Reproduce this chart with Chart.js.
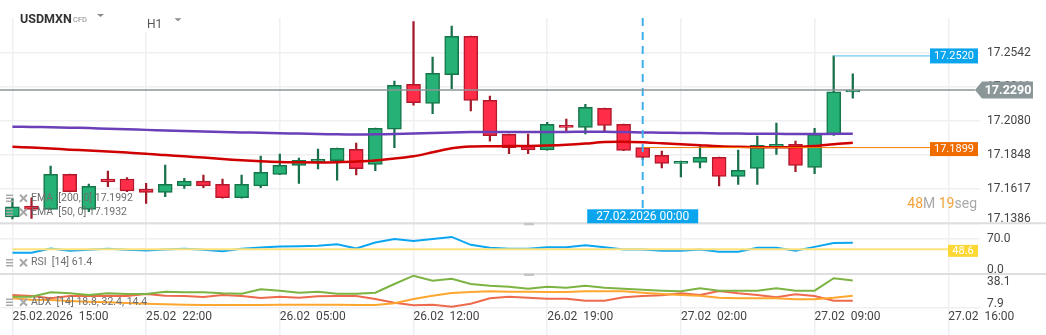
<!DOCTYPE html>
<html lang="es">
<head>
<meta charset="utf-8">
<title>USDMXN H1</title>
<script src="https://cdn.jsdelivr.net/npm/chart.js@4.4.1/dist/chart.umd.min.js"></script>
<style>
  html, body { margin: 0; padding: 0; background: #fff; overflow: hidden; }
  canvas { display: block; }
</style>
</head>
<body>
<canvas id="chart" width="1046" height="335"></canvas>
<script>
// Hourly USDMXN candles, 25.02 15:00 .. 27.02 11:00
const opens  = [17.1430, 17.1503, 17.1480, 17.1718, 17.1480, 17.1686, 17.1686, 17.1618, 17.1596, 17.1640,
                17.1672, 17.1650, 17.1559, 17.1640, 17.1718, 17.1779, 17.1801, 17.1810, 17.1887, 17.1785,
                17.2023, 17.2328, 17.2199, 17.2393, 17.2653, 17.2219, 17.1989, 17.1909, 17.1884, 17.2050,
                17.2035, 17.2165, 17.2057, 17.1899, 17.1846, 17.1792, 17.1799, 17.1833, 17.1704, 17.1758,
                17.1907, 17.1921, 17.1765, 17.1984, 17.2276];
const highs  = [17.1555, 17.1559, 17.1774, 17.1720, 17.1652, 17.1740, 17.1695, 17.1657, 17.1781, 17.1690,
                17.1713, 17.1686, 17.1713, 17.1842, 17.1855, 17.1828, 17.1889, 17.1896, 17.1930, 17.2031,
                17.2350, 17.2752, 17.2513, 17.2723, 17.2655, 17.2248, 17.1990, 17.1991, 17.2070, 17.2092,
                17.2192, 17.2167, 17.2059, 17.1901, 17.1876, 17.1808, 17.1916, 17.1835, 17.1882, 17.1977,
                17.2065, 17.1943, 17.2029, 17.2520, 17.2398];
const lows   = [17.1415, 17.1419, 17.1478, 17.1598, 17.1464, 17.1634, 17.1600, 17.1521, 17.1566, 17.1623,
                17.1627, 17.1557, 17.1557, 17.1627, 17.1716, 17.1657, 17.1754, 17.1679, 17.1713, 17.1742,
                17.1898, 17.2187, 17.2128, 17.2298, 17.2147, 17.1943, 17.1857, 17.1857, 17.1882, 17.2002,
                17.1991, 17.2011, 17.1878, 17.1817, 17.1762, 17.1701, 17.1762, 17.1640, 17.1650, 17.1650,
                17.1853, 17.1735, 17.1722, 17.1982, 17.2233];
const closes = [17.1498, 17.1480, 17.1718, 17.1600, 17.1636, 17.1667, 17.1606, 17.1596, 17.1650, 17.1672,
                17.1640, 17.1559, 17.1650, 17.1731, 17.1779, 17.1813, 17.1819, 17.1894, 17.1756, 17.2029,
                17.2321, 17.2203, 17.2402, 17.2653, 17.2219, 17.1979, 17.1898, 17.1884, 17.2057, 17.2036,
                17.2172, 17.2050, 17.1880, 17.1833, 17.1792, 17.1806, 17.1833, 17.1704, 17.1745, 17.1914,
                17.1921, 17.1779, 17.1989, 17.2276, 17.2290];

const ema200 = [17.2040, 17.2039, 17.2037, 17.2034, 17.2031, 17.2027, 17.2023, 17.2019, 17.2015, 17.2012,
                17.2008, 17.2005, 17.2002, 17.1999, 17.1996, 17.1994, 17.1991, 17.1989, 17.1988, 17.1989,
                17.1991, 17.1994, 17.1998, 17.2001, 17.2004, 17.2005, 17.2005, 17.2004, 17.2004, 17.2005,
                17.2006, 17.2006, 17.2004, 17.2002, 17.2000, 17.1998, 17.1997, 17.1995, 17.1994, 17.1993,
                17.1992, 17.1991, 17.1991, 17.1992, 17.1992];
const ema50  = [17.1905, 17.1899, 17.1893, 17.1885, 17.1879, 17.1872, 17.1865, 17.1858, 17.1848, 17.1840,
                17.1831, 17.1821, 17.1813, 17.1806, 17.1801, 17.1799, 17.1798, 17.1800, 17.1804, 17.1811,
                17.1825, 17.1840, 17.1867, 17.1894, 17.1906, 17.1908, 17.1909, 17.1910, 17.1913, 17.1918,
                17.1926, 17.1937, 17.1939, 17.1935, 17.1928, 17.1922, 17.1915, 17.1908, 17.1904, 17.1902,
                17.1901, 17.1902, 17.1909, 17.1922, 17.1932];

const rsi14   = [41.8, 41.8, 50.4, 45.7, 47.6, 49.6, 47.6, 46.5, 48.4, 49.6, 47.6, 45.1, 49.6, 52.4, 54.3,
                 54.9, 55.5, 58.8, 50.4, 62.2, 69.2, 65.3, 69.2, 73.1, 57.5, 51.6, 49.6, 49.6, 52.9, 52.9,
                 56.9, 52.9, 48.4, 48.4, 45.7, 45.7, 48.4, 43.7, 43.7, 51.6, 51.6, 45.7, 53.5, 61.0, 61.4];
const rsiLevel = 48.6;

const adx14   = [16.5, 15.3, 15.0, 14.1, 13.5, 13.0, 12.3, 11.7, 11.2, 10.8, 10.6, 10.6, 10.6, 10.6, 10.8,
                 10.8, 10.8, 10.8, 10.6, 10.6, 12.1, 15.9, 18.8, 21.2, 22.1, 22.7, 22.4, 22.4, 22.1, 22.1,
                 22.7, 22.7, 22.7, 21.5, 20.3, 19.4, 18.7, 17.0, 16.5, 16.5, 16.5, 15.6, 15.6, 17.0, 18.8];
const plusDI  = [17.9, 17.9, 21.8, 21.0, 19.4, 21.0, 20.3, 20.3, 22.4, 21.8, 21.8, 21.0, 20.6, 24.5, 23.3,
                 21.5, 22.4, 20.6, 20.6, 21.5, 29.2, 36.6, 32.1, 33.9, 29.2, 27.7, 26.8, 25.0, 26.8, 25.9,
                 27.7, 25.9, 25.0, 24.2, 23.3, 22.7, 25.4, 23.3, 23.3, 23.3, 25.4, 23.3, 23.3, 34.3, 32.4];
const minusDI = [19.4, 18.6, 16.5, 18.6, 18.6, 18.8, 18.6, 20.3, 18.8, 18.6, 17.7, 19.4, 18.6, 16.8, 17.9,
                 17.0, 18.3, 18.6, 18.6, 15.9, 12.6, 10.3, 10.8, 9.1, 11.7, 16.5, 17.9, 17.0, 16.2, 16.2,
                 14.4, 14.4, 17.4, 18.6, 19.2, 21.0, 19.4, 23.0, 21.0, 19.4, 17.4, 20.1, 18.6, 14.4, 14.4];

const priceTicks = [17.1386, 17.1617, 17.1848, 17.2080, 17.2311, 17.2542];
const rsiTicks = [0, 70];
const adxTicks = [7.9, 38.1];
const timeTicks = [0, 7, 14, 21, 28, 35, 42, 49];
const timeLabels = ['25.02.2026  15:00', '25.02  22:00', '26.02  05:00', '26.02  12:00',
                    '26.02  19:00', '27.02  02:00', '27.02  09:00', '27.02  16:00'];

const dayStart = 33;          // first candle of 27.02
const dayStartLabel = '27.02.2026 00:00';
const highCandle = 43;        // candle that printed the high
const countdown = [['48', '#f4a23a'], ['M ', '#a9a9a9'], ['19', '#f4a23a'], ['seg', '#a9a9a9']];

const UP = '#26b277', UP_EDGE = '#16754a', UP_WICK = '#17704a';
const DOWN = '#ff2d47', DOWN_EDGE = '#b3192c', DOWN_WICK = '#a31b2b';
const GRID = '#f0f0f3';

Chart.defaults.font.family = 'Roboto';

const idx = closes.map((_, i) => i);
const rising = idx.map(i => closes[i] >= opens[i]);
const series = arr => arr.map((v, i) => ({ x: i, y: v }));
const fixedTicks = values => scale => { scale.ticks = values.map(v => ({ value: v })); };
const axisWidth = scale => { scale.width = 66; };

function paneAxis(weight, min, max, values) {
  return {
    position: 'right', stack: 'panes', stackWeight: weight,
    min, max, bounds: 'data',
    afterBuildTicks: fixedTicks(values),
    afterFit: axisWidth,
    grid: { color: GRID, lineWidth: 1.5, drawTicks: false },
    border: { display: false },
    ticks: { display: false }
  };
}

function line(ctx, x1, y1, x2, y2) {
  ctx.beginPath(); ctx.moveTo(x1, y1); ctx.lineTo(x2, y2); ctx.stroke();
}

function tag(ctx, left, cy, w, h, fill, text, font) {
  ctx.fillStyle = fill;
  ctx.fillRect(left, cy - h / 2, w, h);
  ctx.fillStyle = '#fff';
  ctx.font = font;
  ctx.textAlign = 'center';
  ctx.textBaseline = 'middle';
  ctx.fillText(text, left + w / 2, cy + 0.5);
}

function legendRow(ctx, cy, text) {
  ctx.strokeStyle = '#a8a8a8';
  ctx.lineWidth = 1.5;
  for (const d of [-3, 0, 3]) line(ctx, 6, cy + d, 13, cy + d);
  ctx.lineWidth = 2;
  line(ctx, 20, cy - 3.5, 27, cy + 3.5);
  line(ctx, 20, cy + 3.5, 27, cy - 3.5);
  ctx.fillStyle = '#6e6e6e';
  ctx.font = '10.5px Roboto';
  ctx.textAlign = 'left';
  ctx.textBaseline = 'middle';
  ctx.fillText(text, 31, cy);
}

const overlay = {
  id: 'overlay',
  afterDraw(chart) {
    const { ctx, chartArea: area, scales: { x, y, rsi, adx } } = chart;
    const right = area.right;
    ctx.save();

    // header: symbol and timeframe selectors
    ctx.fillStyle = '#fff';
    ctx.fillRect(138, 0, 52, 32);
    ctx.fillStyle = '#333';
    ctx.font = 'bold 12.5px Roboto';
    ctx.textAlign = 'left';
    ctx.textBaseline = 'alphabetic';
    ctx.fillText('USDMXN', 20, 22.5);
    ctx.fillStyle = '#888';
    ctx.font = '7.5px Roboto';
    ctx.fillText('CFD', 73, 22);
    ctx.fillStyle = '#555';
    ctx.font = '12px Roboto';
    ctx.fillText('H1', 147, 28.3);
    ctx.fillStyle = '#8a8a8a';
    for (const [tx, ty] of [[97, 14], [174.5, 18.3]]) {
      ctx.beginPath(); ctx.moveTo(tx, ty); ctx.lineTo(tx + 7, ty); ctx.lineTo(tx + 3.5, ty + 3); ctx.fill();
    }

    // pane separators and resize grips
    ctx.strokeStyle = '#dedee0';
    ctx.lineWidth = 2;
    for (const b of [y.bottom, rsi.bottom]) line(ctx, 0, b, chart.width, b);
    ctx.fillStyle = '#c6c6c6';
    for (const b of [y.bottom, rsi.bottom]) ctx.fillRect(524, b - 0.5, 10, 2.5);

    // RSI reference level
    const lvY = rsi.getPixelForValue(rsiLevel);
    ctx.strokeStyle = '#ffe27c';
    ctx.lineWidth = 2;
    line(ctx, x.getPixelForValue(0), lvY, right - 32, lvY);
    tag(ctx, right - 32, lvY + 1.5, 30, 12, '#fdd835', rsiLevel.toFixed(1), '11px Roboto');

    // day open and session high levels
    const openY = y.getPixelForValue(opens[dayStart]);
    ctx.strokeStyle = '#f57c00';
    ctx.lineWidth = 1;
    line(ctx, x.getPixelForValue(dayStart), openY, right - 50, openY);
    tag(ctx, right - 50, openY + 1.5, 48, 14, '#ef6c00', opens[dayStart].toFixed(4), '11px Roboto');

    const hiY = y.getPixelForValue(highs[highCandle]);
    ctx.strokeStyle = '#4fbdf2';
    line(ctx, x.getPixelForValue(highCandle), hiY, right - 50, hiY);
    tag(ctx, right - 50, hiY, 48, 15, '#0ba5ee', highs[highCandle].toFixed(4), '11px Roboto');

    // start of day marker
    const dX = x.getPixelForValue(dayStart);
    ctx.strokeStyle = '#3fb0ee';
    ctx.lineWidth = 2;
    ctx.setLineDash([8, 6]);
    line(ctx, dX, area.top, dX, y.bottom - 14);
    ctx.setLineDash([]);
    tag(ctx, dX - 55.5, y.bottom - 7, 111, 14, '#0ba5ee', dayStartLabel, '12px Roboto');

    // axis labels, clamped inside each pane
    ctx.fillStyle = '#444';
    ctx.font = '12px Roboto';
    ctx.textAlign = 'left';
    ctx.textBaseline = 'middle';
    for (const [scale, digits] of [[y, 4], [rsi, 1], [adx, 1]]) {
      for (const t of scale.ticks) {
        const py = Math.min(Math.max(scale.getPixelForValue(t.value), scale.top + 8), scale.bottom - 4);
        ctx.fillText(t.value.toFixed(digits), right + 7, py);
      }
    }

    // last price line and tag
    const last = closes[closes.length - 1];
    const pY = y.getPixelForValue(last);
    ctx.strokeStyle = '#8b9698';
    ctx.lineWidth = 1.5;
    line(ctx, 0, pY, right - 5, pY);
    ctx.fillStyle = '#8b9698';
    ctx.beginPath();
    ctx.moveTo(right - 5, pY);
    ctx.lineTo(right + 2, pY - 8.5);
    ctx.lineTo(right + 53, pY - 8.5);
    ctx.lineTo(right + 53, pY + 8.5);
    ctx.lineTo(right + 2, pY + 8.5);
    ctx.closePath();
    ctx.fill();
    ctx.fillStyle = '#fff';
    ctx.font = 'bold 12.5px Roboto';
    ctx.textAlign = 'center';
    ctx.fillText(last.toFixed(4), right + 28, pY + 0.5);

    // indicator captions
    legendRow(ctx, y.bottom - 25, `EMA  [200, 0] ${ema200[ema200.length - 1].toFixed(4)}`);
    legendRow(ctx, y.bottom - 11, `EMA  [50, 0] ${ema50[ema50.length - 1].toFixed(4)}`);
    legendRow(ctx, rsi.bottom - 11.3, `RSI  [14] ${rsi14[rsi14.length - 1].toFixed(1)}`);
    legendRow(ctx, adx.bottom - 5.7,
      `ADX  [14] ${adx14[adx14.length - 1].toFixed(1)}, ${plusDI[plusDI.length - 1].toFixed(1)}, ${minusDI[minusDI.length - 1].toFixed(1)}`);

    // time left on the current candle
    ctx.font = '14px Roboto';
    ctx.textAlign = 'left';
    ctx.textBaseline = 'middle';
    const total = countdown.reduce((s, [t]) => s + ctx.measureText(t).width, 0);
    let cx = right - 3 - total;
    for (const [t, c] of countdown) {
      ctx.fillStyle = c;
      ctx.fillText(t, cx, y.bottom - 19);
      cx += ctx.measureText(t).width;
    }

    ctx.restore();
  }
};

new Chart(document.getElementById('chart'), {
  type: 'bar',
  data: {
    datasets: [
      {
        type: 'line', label: 'EMA 200', data: series(ema200), yAxisID: 'y',
        borderColor: '#6a3fb8', borderWidth: 2.5, pointRadius: 0, tension: 0.3, order: 1
      },
      {
        type: 'line', label: 'EMA 50', data: series(ema50), yAxisID: 'y',
        borderColor: '#d00000', borderWidth: 2.5, pointRadius: 0, tension: 0.3, order: 1
      },
      {
        label: 'Bodies', data: idx.map(i => ({ x: i, y: [opens[i], closes[i]] })), yAxisID: 'y',
        backgroundColor: rising.map(u => u ? UP : DOWN),
        borderColor: rising.map(u => u ? UP_EDGE : DOWN_EDGE),
        borderWidth: 1.5, borderSkipped: false, barThickness: 14, grouped: false, order: 2
      },
      {
        label: 'Wicks', data: idx.map(i => ({ x: i, y: [lows[i], highs[i]] })), yAxisID: 'y',
        backgroundColor: rising.map(u => u ? UP_WICK : DOWN_WICK),
        borderWidth: 0, barThickness: 1.6, grouped: false, order: 3
      },
      {
        type: 'line', label: 'RSI', data: series(rsi14), yAxisID: 'rsi',
        borderColor: '#0aa6f0', borderWidth: 2, pointRadius: 0, tension: 0, order: 0
      },
      {
        type: 'line', label: '+DI', data: series(plusDI), yAxisID: 'adx',
        borderColor: '#7cb342', borderWidth: 2, pointRadius: 0, tension: 0, order: 0
      },
      {
        type: 'line', label: 'ADX', data: series(adx14), yAxisID: 'adx',
        borderColor: '#ffa630', borderWidth: 2, pointRadius: 0, tension: 0, order: 0
      },
      {
        type: 'line', label: '-DI', data: series(minusDI), yAxisID: 'adx',
        borderColor: '#ee6a4d', borderWidth: 2, pointRadius: 0, tension: 0, order: 0
      }
    ]
  },
  options: {
    responsive: false,
    animation: false,
    events: [],
    layout: { padding: { top: 18, right: 0, bottom: 0, left: 0 } },
    plugins: { legend: { display: false }, tooltip: { enabled: false } },
    scales: {
      x: {
        type: 'linear', min: -0.65, max: 50.66, offset: false, bounds: 'data',
        afterBuildTicks: fixedTicks(timeTicks),
        afterFit: scale => { scale.height = 27; },
        grid: { color: GRID, lineWidth: 1.5, tickLength: 27, offset: false },
        border: { display: false },
        ticks: {
          align: 'start', padding: -25, color: '#444', font: { size: 12 },
          maxRotation: 0, autoSkip: false,
          callback: v => timeLabels[timeTicks.indexOf(v)]
        }
      },
      y: paneAxis(205.3, 17.1386, 17.2777, priceTicks),
      rsi: paneAxis(50.7, 0, 100, rsiTicks),
      adx: paneAxis(34, 7.9, 38.1, adxTicks)
    }
  },
  plugins: [overlay]
});
</script>
</body>
</html>
